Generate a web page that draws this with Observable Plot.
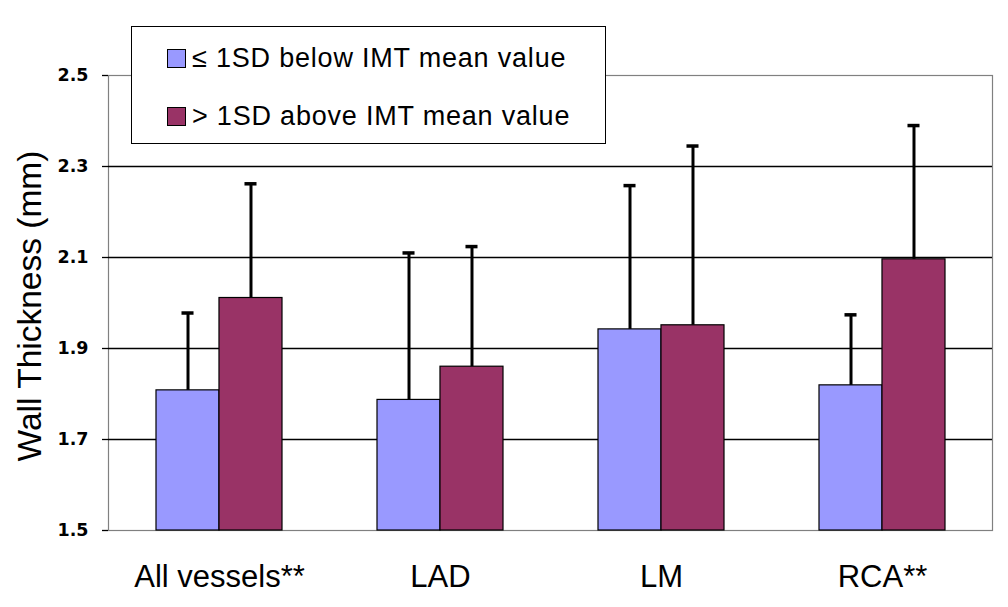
<!DOCTYPE html>
<html>
<head>
<meta charset="utf-8">
<script src="https://cdn.jsdelivr.net/npm/d3@7"></script>
<script src="https://cdn.jsdelivr.net/npm/@observablehq/plot@0.6"></script>
<style>
  html, body { margin: 0; padding: 0; background: #fff; }
  #wrap { position: relative; width: 1008px; height: 607px; overflow: hidden; }
  #legend {
    position: absolute; left: 131px; top: 26px; width: 473px; height: 116px;
    border: 1.5px solid #000; background: #fff; box-sizing: content-box;
    font-family: "Liberation Sans", Arial, sans-serif; font-size: 27px; letter-spacing: 0.8px; color: #000;
  }
  .row { position: absolute; left: 35px; display: flex; align-items: center; white-space: nowrap; }
  .sw { width: 17px; height: 17px; border: 1px solid #000; margin-right: 6px; }
</style>
</head>
<body>
<div id="wrap">
  <div id="chart"></div>
  <div id="legend"></div>
</div>
<script>
const categories = ["All vessels**", "LAD", "LM", "RCA**"];
const seriesNames = ["≤ 1SD below IMT mean value", "> 1SD above IMT mean value"];
const seriesColors = ["#9999FF", "#993366"];
const belowMean = [1.808, 1.787, 1.942, 1.819];
const belowSD = [0.170, 0.323, 0.316, 0.155];
const aboveMean = [2.011, 1.860, 1.951, 2.096];
const aboveSD = [0.251, 0.264, 0.394, 0.294];
const yTicks = [1.5, 1.7, 1.9, 2.1, 2.3, 2.5];
const gridTicks = [1.7, 1.9, 2.1, 2.3];
const yDomain = [1.5, 2.5];
const yTitle = "Wall Thickness (mm)";

const W = 1008, H = 607;
const mL = 108, mR = 16, mT = 75, mB = 77;
const padIn = 0.43, padOut = padIn / 2;
const step = (W - mL - mR) / (categories.length - padIn + 2 * padOut);
const bw = step * (1 - padIn);
const capW = 12;

const below = categories.map((c, i) => ({cat: c, mean: belowMean[i], top: belowMean[i] + belowSD[i]}));
const above = categories.map((c, i) => ({cat: c, mean: aboveMean[i], top: aboveMean[i] + aboveSD[i]}));

const chart = Plot.plot({
  width: W, height: H,
  marginLeft: mL, marginRight: mR, marginTop: mT, marginBottom: mB,
  style: {background: "#fff", overflow: "visible"},
  x: {type: "band", domain: categories, paddingInner: padIn, paddingOuter: padOut},
  y: {domain: yDomain},
  marks: [
    Plot.frame({stroke: "#808080", strokeWidth: 1.2}),
    Plot.ruleY(gridTicks, {stroke: "#000", strokeWidth: 1.3}),
    Plot.barY(below, {x: "cat", y1: yDomain[0], y2: "mean", fill: seriesColors[0], stroke: "#000", strokeWidth: 1.2, insetRight: bw / 2}),
    Plot.barY(above, {x: "cat", y1: yDomain[0], y2: "mean", fill: seriesColors[1], stroke: "#000", strokeWidth: 1.2, insetLeft: bw / 2}),
    Plot.ruleX(below, {x: "cat", y1: "mean", y2: "top", dx: -bw / 4, stroke: "#000", strokeWidth: 3}),
    Plot.ruleX(above, {x: "cat", y1: "mean", y2: "top", dx: bw / 4, stroke: "#000", strokeWidth: 3}),
    Plot.tickY(below, {x: "cat", y: "top", dx: -bw / 4, insetLeft: (bw - capW) / 2, insetRight: (bw - capW) / 2, stroke: "#000", strokeWidth: 3.5}),
    Plot.tickY(above, {x: "cat", y: "top", dx: bw / 4, insetLeft: (bw - capW) / 2, insetRight: (bw - capW) / 2, stroke: "#000", strokeWidth: 3.5}),
    Plot.axisY({ticks: yTicks, tickFormat: d3.format(".1f"), tickSize: 6, tickPadding: 14, line: true, label: null,
      fontSize: 17.5, fontWeight: "bold", fontFamily: "DejaVu Sans", stroke: "#000", strokeWidth: 1.3, strokeOpacity: 1}),
    Plot.axisX({tickSize: 0, tickPadding: 34, label: null, fontSize: 31, fontFamily: "Liberation Sans"}),
    Plot.text([yTitle], {frameAnchor: "left", textAnchor: "middle", lineAnchor: "middle", rotate: -90, dx: -78, dy: 3, fontSize: 33.5, fontFamily: "Liberation Sans", fill: "#000"})
  ]
});
document.getElementById("chart").appendChild(chart);

const legend = document.getElementById("legend");
seriesNames.forEach((name, i) => {
  const row = document.createElement("div");
  row.className = "row";
  row.style.top = (i === 0 ? 16 : 74) + "px";
  const sw = document.createElement("div");
  sw.className = "sw";
  sw.style.background = seriesColors[i];
  const t = document.createElement("span");
  t.textContent = name;
  row.appendChild(sw);
  row.appendChild(t);
  legend.appendChild(row);
});
</script>
</body>
</html>
